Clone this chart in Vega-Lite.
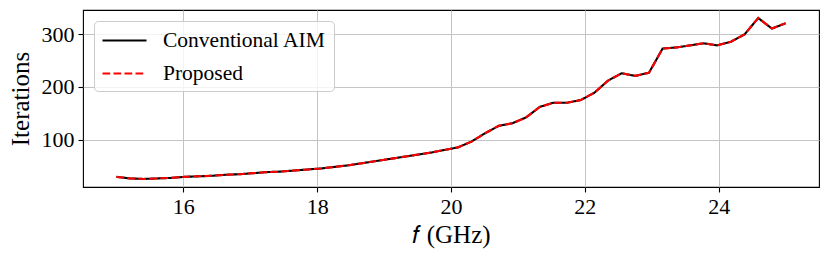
{
  "$schema": "https://vega.github.io/schema/vega-lite/v6.json",
  "width": 736,
  "height": 177,
  "autosize": "none",
  "padding": {"left": 83, "top": 10, "right": 11, "bottom": 73},
  "background": "white",
  "config": {
    "view": {"stroke": "#000000", "strokeWidth": 1.1},
    "font": "'Liberation Serif', 'Times New Roman', serif",
    "axis": {
      "labelFont": "'Liberation Serif', 'Times New Roman', serif",
      "labelFontSize": 22,
      "labelColor": "#000000",
      "titleFont": "'Liberation Serif', 'Times New Roman', serif",
      "titleFontSize": 25,
      "titleFontWeight": "normal",
      "titleColor": "#000000",
      "tickColor": "#000000",
      "tickSize": 5,
      "tickWidth": 1.1,
      "labelPadding": 4,
      "domain": false,
      "gridColor": "#c4c4c4",
      "gridWidth": 1
    },
    "legend": {
      "labelFont": "'Liberation Serif', 'Times New Roman', serif",
      "labelFontSize": 21.5,
      "labelColor": "#000000",
      "labelLimit": 400
    }
  },
  "data": {
    "values": [
      {"f": 15.000, "Conventional AIM": 29, "Proposed": 29},
      {"f": 15.204, "Conventional AIM": 26, "Proposed": 26},
      {"f": 15.408, "Conventional AIM": 25, "Proposed": 25},
      {"f": 15.612, "Conventional AIM": 26, "Proposed": 26},
      {"f": 15.816, "Conventional AIM": 27, "Proposed": 27},
      {"f": 16.020, "Conventional AIM": 29, "Proposed": 29},
      {"f": 16.224, "Conventional AIM": 30, "Proposed": 30},
      {"f": 16.429, "Conventional AIM": 31, "Proposed": 31},
      {"f": 16.633, "Conventional AIM": 33, "Proposed": 33},
      {"f": 16.837, "Conventional AIM": 34, "Proposed": 34},
      {"f": 17.041, "Conventional AIM": 36, "Proposed": 36},
      {"f": 17.245, "Conventional AIM": 38, "Proposed": 38},
      {"f": 17.449, "Conventional AIM": 39, "Proposed": 39},
      {"f": 17.653, "Conventional AIM": 41, "Proposed": 41},
      {"f": 17.857, "Conventional AIM": 43, "Proposed": 43},
      {"f": 18.061, "Conventional AIM": 45, "Proposed": 45},
      {"f": 18.265, "Conventional AIM": 48, "Proposed": 48},
      {"f": 18.469, "Conventional AIM": 51, "Proposed": 51},
      {"f": 18.673, "Conventional AIM": 55, "Proposed": 55},
      {"f": 18.878, "Conventional AIM": 59, "Proposed": 59},
      {"f": 19.082, "Conventional AIM": 63, "Proposed": 63},
      {"f": 19.286, "Conventional AIM": 67, "Proposed": 67},
      {"f": 19.490, "Conventional AIM": 71, "Proposed": 71},
      {"f": 19.694, "Conventional AIM": 75, "Proposed": 75},
      {"f": 19.898, "Conventional AIM": 80, "Proposed": 80},
      {"f": 20.102, "Conventional AIM": 85, "Proposed": 85},
      {"f": 20.306, "Conventional AIM": 96, "Proposed": 96},
      {"f": 20.510, "Conventional AIM": 112, "Proposed": 112},
      {"f": 20.714, "Conventional AIM": 126, "Proposed": 126},
      {"f": 20.918, "Conventional AIM": 131, "Proposed": 131},
      {"f": 21.122, "Conventional AIM": 142, "Proposed": 142},
      {"f": 21.327, "Conventional AIM": 162, "Proposed": 162},
      {"f": 21.531, "Conventional AIM": 170, "Proposed": 170},
      {"f": 21.735, "Conventional AIM": 170, "Proposed": 170},
      {"f": 21.939, "Conventional AIM": 175, "Proposed": 175},
      {"f": 22.143, "Conventional AIM": 189, "Proposed": 189},
      {"f": 22.347, "Conventional AIM": 212, "Proposed": 212},
      {"f": 22.551, "Conventional AIM": 226, "Proposed": 226},
      {"f": 22.755, "Conventional AIM": 221, "Proposed": 221},
      {"f": 22.959, "Conventional AIM": 227, "Proposed": 227},
      {"f": 23.163, "Conventional AIM": 273, "Proposed": 273},
      {"f": 23.367, "Conventional AIM": 275, "Proposed": 275},
      {"f": 23.571, "Conventional AIM": 279, "Proposed": 279},
      {"f": 23.776, "Conventional AIM": 283, "Proposed": 283},
      {"f": 23.980, "Conventional AIM": 279, "Proposed": 279},
      {"f": 24.184, "Conventional AIM": 286, "Proposed": 286},
      {"f": 24.388, "Conventional AIM": 300, "Proposed": 300},
      {"f": 24.592, "Conventional AIM": 331, "Proposed": 331},
      {"f": 24.796, "Conventional AIM": 311, "Proposed": 311},
      {"f": 25.000, "Conventional AIM": 321, "Proposed": 321}
    ]
  },
  "transform": [
    {"fold": ["Conventional AIM", "Proposed"], "as": ["method", "iterations"]}
  ],
  "mark": {"type": "line", "strokeWidth": 2.1, "clip": true},
  "encoding": {
    "x": {
      "field": "f",
      "type": "quantitative",
      "scale": {"domain": [14.5, 25.5], "nice": false, "zero": false},
      "axis": {
        "values": [16, 18, 20, 22, 24],
        "title": "𝑓 (GHz)",
        "titlePadding": 5,
        "grid": true
      }
    },
    "y": {
      "field": "iterations",
      "type": "quantitative",
      "scale": {"domain": [9.7, 346.3], "nice": false, "zero": false},
      "axis": {
        "values": [100, 200, 300],
        "title": "Iterations",
        "titleX": -63,
        "titleY": 88.5,
        "titleAngle": -90,
        "titleAlign": "center",
        "titleBaseline": "middle",
        "grid": true
      }
    },
    "color": {
      "field": "method",
      "type": "nominal",
      "scale": {"domain": ["Conventional AIM", "Proposed"], "range": ["#000000", "#ff0000"]},
      "legend": {
        "title": null,
        "orient": "none",
        "legendX": 11,
        "legendY": 11,
        "symbolType": "M-1,0L3,0",
        "symbolSize": 484,
        "symbolStrokeWidth": 2.1,
        "labelOffset": 37,
        "labelLimit": 400,
        "rowPadding": 10,
        "padding": 7,
        "strokeColor": "#cccccc",
        "fillColor": "rgba(255,255,255,0.8)",
        "cornerRadius": 4
      }
    },
    "strokeDash": {
      "field": "method",
      "type": "nominal",
      "scale": {"domain": ["Conventional AIM", "Proposed"], "range": [[1, 0], [7.7, 3.3]]},
      "legend": {
        "title": null,
        "orient": "none",
        "legendX": 11,
        "legendY": 11,
        "symbolType": "M-1,0L3,0",
        "symbolSize": 484,
        "symbolStrokeWidth": 2.1,
        "labelOffset": 37,
        "labelLimit": 400,
        "rowPadding": 10,
        "padding": 7,
        "strokeColor": "#cccccc",
        "fillColor": "rgba(255,255,255,0.8)",
        "cornerRadius": 4
      }
    },
    "order": {"field": "method"}
  }
}
